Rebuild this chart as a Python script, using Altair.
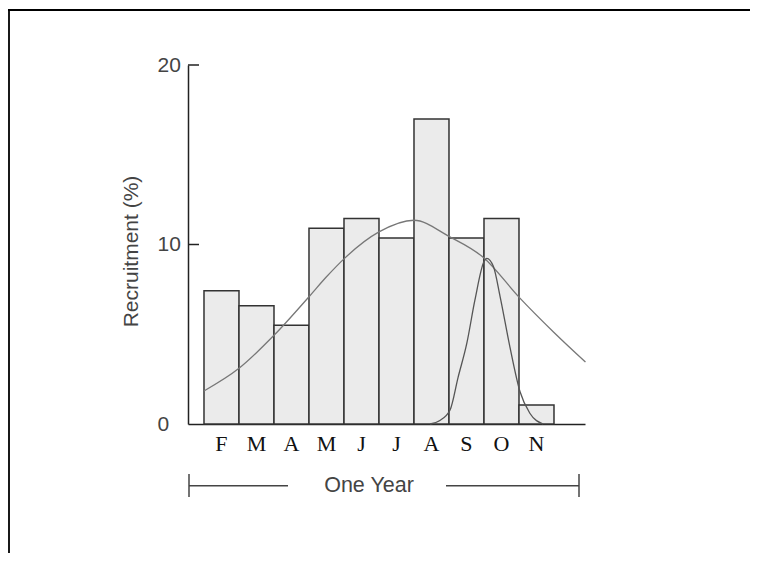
import altair as alt
import pandas as pd

# ---- data ----
months = ["F", "M", "A", "M", "J", "J", "A", "S", "O", "N"]
recruitment = [7.43, 6.59, 5.50, 10.90, 11.45, 10.36, 16.99, 10.36, 11.45, 1.06]

broad_x = [0, 1, 2, 3, 3.5, 4, 5, 6, 7, 8, 9, 10, 10.9]
broad_y = [1.84, 3.1, 4.94, 7.09, 8.2, 9.2, 10.7, 11.35, 10.45, 9.25, 7.07, 5.1, 3.45]

narrow_x = [6.46, 6.74, 7.03, 7.26, 7.51, 7.74, 8.0, 8.08, 8.27, 8.46, 8.74, 9.03, 9.31, 9.69]
narrow_y = [0, 0.2, 0.78, 2.6, 4.5, 6.9, 9.05, 9.23, 8.77, 7.1, 4.3, 1.8, 0.6, 0]

y_ticks = [0, 10, 20]

# ---- tables ----
bars = pd.DataFrame({
    "month": months,
    "start": list(range(len(months))),
    "end": [i + 1 for i in range(len(months))],
    "mid": [i + 0.5 for i in range(len(months))],
    "value": recruitment,
})
broad = pd.DataFrame({"cx": broad_x, "cy": broad_y})
narrow = pd.DataFrame({"cx": narrow_x, "cy": narrow_y})
ticks = pd.DataFrame({"t": [10, 20]})
one = pd.DataFrame({"a": [0]})

W, H = 397, 359
xs = alt.Scale(domain=[-0.457, 10.886], nice=False, zero=False)
ys = alt.Scale(domain=[0, 20], nice=False, zero=True)

x_axis = alt.Axis(title="", labels=False, ticks=False, grid=False,
                  domainColor="#222222", domainWidth=1.5)
y_axis = alt.Axis(title="Recruitment (%)", values=y_ticks, ticks=False, grid=False,
                  domainColor="#222222", domainWidth=1.5,
                  labelFont="Liberation Sans", labelFontSize=21, labelColor="#444444",
                  labelAlign="left", labelPadding=31,
                  titleFont="Liberation Sans", titleFontSize=21, titleFontWeight="normal",
                  titleColor="#444444", titleX=-57, titleY=186, titleAngle=270,
                  titleAlign="center", titleBaseline="middle")

bar_layer = alt.Chart(bars).mark_rect(fill="#ebebeb", stroke="#333333", strokeWidth=1.5).encode(
    x=alt.X("start:Q", scale=xs, axis=x_axis),
    x2="end:Q",
    y=alt.Y("value:Q", scale=ys, axis=y_axis),
    y2=alt.datum(0),
)

broad_layer = alt.Chart(broad).mark_line(color="#777777", strokeWidth=1.3, interpolate="monotone").encode(
    x=alt.X("cx:Q", scale=xs, axis=x_axis),
    y=alt.Y("cy:Q", scale=ys, axis=y_axis),
)

narrow_layer = alt.Chart(narrow).mark_line(color="#555555", strokeWidth=1.3, interpolate="monotone").encode(
    x=alt.X("cx:Q", scale=xs, axis=x_axis),
    y=alt.Y("cy:Q", scale=ys, axis=y_axis),
)

month_labels = alt.Chart(bars).mark_text(font="Liberation Serif", fontSize=22, color="#111111",
                                          baseline="middle", align="center").encode(
    x=alt.X("mid:Q", scale=xs, axis=x_axis),
    y=alt.value(379),
    text="month:N",
)

tick_layer = alt.Chart(ticks).mark_rule(color="#222222", strokeWidth=1.5).encode(
    y=alt.Y("t:Q", scale=ys, axis=y_axis),
    x=alt.value(0),
    x2=alt.value(11),
)

def seg(x1, x2, y1, y2, color="#444444", width=1.5):
    return alt.Chart(one).mark_rule(color=color, strokeWidth=width).encode(
        x=alt.value(x1), x2=alt.value(x2), y=alt.value(y1), y2=alt.value(y2)
    )

bracket = [
    seg(1, 1, 409, 432),
    seg(1, 100, 420.7, 420.7),
    seg(258, 391, 420.7, 420.7),
    seg(391, 391, 409, 432),
]
one_year = alt.Chart(one).mark_text(text="One Year", font="Liberation Sans", fontSize=21.5,
                                    color="#444444", baseline="middle", align="center").encode(
    x=alt.value(181), y=alt.value(421)
)

frame = [
    seg(-180, 565, -55, -55, color="#000000", width=1.8),
    seg(-179, -179, -55, 488, color="#000000", width=1.8),
]

chart = alt.layer(
    bar_layer, broad_layer, narrow_layer, month_labels, tick_layer, *bracket, one_year, *frame
).properties(
    width=W, height=H,
    autosize="none",
    background="white",
    padding={"left": 180, "top": 57, "right": 165, "bottom": 129},
).configure_view(stroke="transparent", strokeWidth=0)

chart.save("out.html", embed_options={"renderer": "svg", "actions": False})
